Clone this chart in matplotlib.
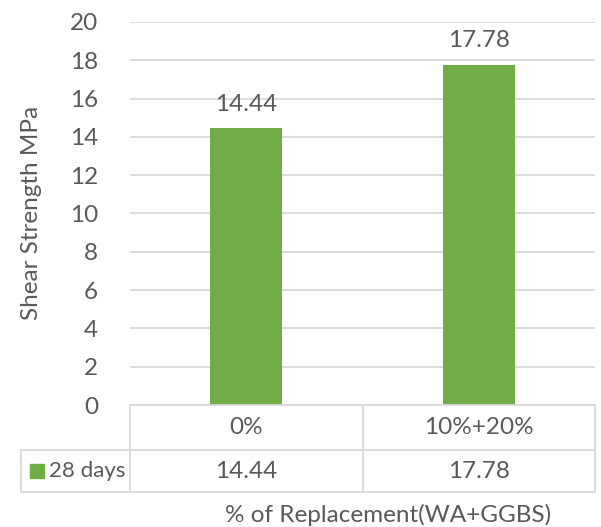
import matplotlib
matplotlib.use("Agg")
import matplotlib.pyplot as plt
from matplotlib.transforms import blended_transform_factory
from matplotlib.lines import Line2D
from matplotlib.patches import Rectangle

# Data
categories = ["0%", "10%+20%"]
shear_28_days = [14.44, 17.78]
series_name = "28 days"
y_ticks = [0, 2, 4, 6, 8, 10, 12, 14, 16, 18, 20]

BAR_COLOR = "#70ad47"
TEXT_COLOR = "#595959"
GRID_COLOR = "#d9d9d9"
FONT = "Lato"
FS = 17.5

W, H = 601, 527
fig = plt.figure(figsize=(W / 100, H / 100), dpi=100)

# plot area in pixel coordinates
left, right, top, bottom = 130, 595, 22, 405
ax = fig.add_axes([left / W, (H - bottom) / H, (right - left) / W, (bottom - top) / H])

x = list(range(len(categories)))
ax.bar(x, shear_28_days, width=0.31, color=BAR_COLOR, zorder=3)
ax.set_xlim(-0.5, len(categories) - 0.5)
ax.set_ylim(0, 20)
ax.set_yticks(y_ticks)
ax.set_yticklabels([str(t) for t in y_ticks], fontfamily=FONT, fontsize=FS, color=TEXT_COLOR)
ax.tick_params(axis="y", length=0, pad=23)
ax.set_xticks([])
ax.grid(axis="y", color=GRID_COLOR, linewidth=1.3, zorder=0)
for s in ax.spines.values():
    s.set_visible(False)

# value labels above bars
for xi, v in zip(x, shear_28_days):
    ax.annotate(f"{v:.2f}", (xi, v), xytext=(0, 17), textcoords="offset points",
                ha="center", va="center", fontfamily=FONT, fontsize=FS, color=TEXT_COLOR)

# data table below the plot
tr = blended_transform_factory(ax.transData, fig.transFigure)
row_top = (H - 405) / H
row_mid = (H - 450) / H
row_bot = (H - 492) / H
legend_left = 21 / W
lw = 1.3

def fig_line(xs, ys, transform):
    fig.add_artist(Line2D(xs, ys, transform=transform, color=GRID_COLOR, linewidth=lw))

n = len(categories)
# horizontal lines
fig_line([-0.5, n - 0.5], [row_top, row_top], tr)
fig_line([-0.5, n - 0.5], [row_mid, row_mid], tr)
fig_line([-0.5, n - 0.5], [row_bot, row_bot], tr)
fig_line([legend_left, left / W], [row_mid, row_mid], fig.transFigure)
fig_line([legend_left, left / W], [row_bot, row_bot], fig.transFigure)
fig_line([legend_left, legend_left], [row_mid, row_bot], fig.transFigure)
# vertical lines
for b in [i - 0.5 for i in range(n + 1)]:
    fig_line([b, b], [row_top, row_bot], tr)

for xi, cat, v in zip(x, categories, shear_28_days):
    fig.text(xi, (row_top + row_mid) / 2, cat, transform=tr, ha="center", va="center",
             fontfamily=FONT, fontsize=FS, color=TEXT_COLOR)
    fig.text(xi, (row_mid + row_bot) / 2, f"{v:.2f}", transform=tr, ha="center", va="center",
             fontfamily=FONT, fontsize=FS, color=TEXT_COLOR)

# legend key in the table row
fig.add_artist(Rectangle((30 / W, (H - 478) / H), 14 / W, 14 / H,
                         transform=fig.transFigure, color=BAR_COLOR))
fig.text(49 / W, (row_mid + row_bot) / 2, series_name, ha="left", va="center",
         fontfamily=FONT, fontsize=16, color=TEXT_COLOR)

# axis titles
fig.text(388 / W, (H - 515) / H, "% of Replacement(WA+GGBS)", ha="center", va="center",
         fontfamily=FONT, fontsize=FS, color=TEXT_COLOR)
fig.text(32 / W, (H - 213) / H, "Shear Strength MPa", ha="center", va="center", rotation=90,
         fontfamily=FONT, fontsize=FS, color=TEXT_COLOR)

fig.savefig("out.png", dpi=100, facecolor="white")
